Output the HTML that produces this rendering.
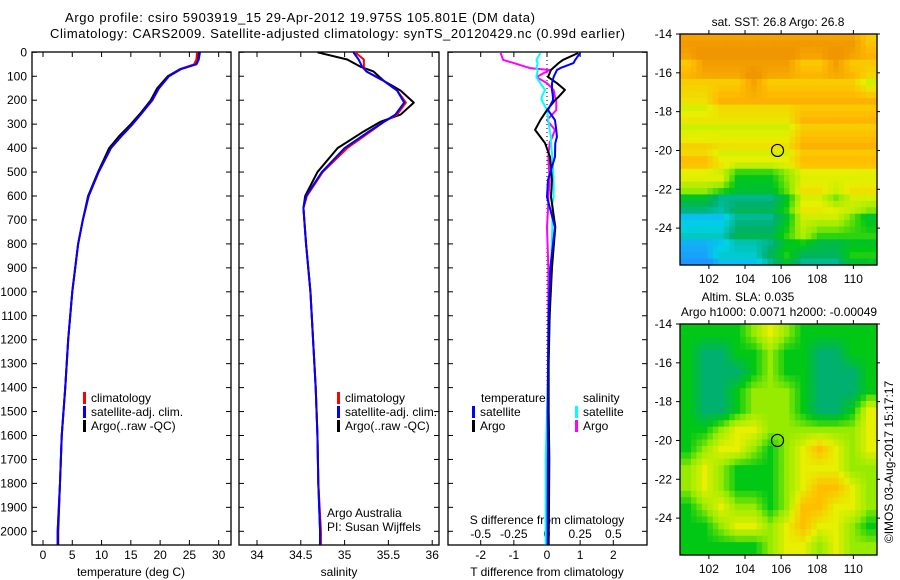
<!DOCTYPE html>
<html><head><meta charset="utf-8"><style>
body{margin:0;background:#fff;}
svg{display:block;font-family:"Liberation Sans",sans-serif;font-size:12px;}
</style></head><body>
<svg id="svg" width="900" height="580" viewBox="0 0 900 580" xmlns="http://www.w3.org/2000/svg">
<rect width="900" height="580" fill="#fff"/>
<text x="65" y="22" font-size="13" textLength="470">Argo profile: csiro 5903919_15 29-Apr-2012 19.975S 105.801E (DM data)</text>
<text x="50" y="38" font-size="13" textLength="575">Climatology: CARS2009. Satellite-adjusted climatology: synTS_20120429.nc (0.99d earlier)</text>
<g id="g"></g>
</svg>
<script>
// ---------- data ----------
const depths = [0,30,50,70,100,150,200,250,300,350,400,500,600,700,800,1000,1200,1400,1600,1800,2000,2055];
const tempArgo = [26.6,26.4,26.0,23.4,21.3,19.5,18.4,16.8,15.0,13.0,11.3,9.4,7.7,6.8,6.0,5.0,4.3,3.8,3.2,2.9,2.6,2.6];
const tempClim = [26.3,26.2,25.8,23.5,21.5,19.8,18.7,17.0,15.3,13.4,11.6,9.5,7.8,6.8,6.0,5.0,4.3,3.8,3.2,2.9,2.5,2.5];
const tempSat  = [26.8,26.6,26.2,23.6,21.5,19.8,18.6,17.0,15.3,13.4,11.6,9.5,7.8,6.8,6.0,5.0,4.3,3.8,3.2,2.9,2.5,2.5];
const salDepths = [0,30,60,80,120,160,210,260,290,330,400,500,600,650,700,800,1000,1200,1400,1600,1800,2000,2055];
const salArgo = [34.69,35.03,35.18,35.33,35.45,35.64,35.79,35.64,35.41,35.22,34.92,34.69,34.55,34.53,34.54,34.56,34.61,34.64,34.67,34.69,34.70,34.72,34.72];
const salClim = [35.12,35.22,35.22,35.25,35.45,35.60,35.70,35.60,35.45,35.30,35.03,34.75,34.57,34.53,34.54,34.56,34.61,34.64,34.67,34.69,34.70,34.73,34.73];
const salSat  = [35.10,35.16,35.20,35.25,35.45,35.60,35.68,35.58,35.45,35.28,35.00,34.74,34.56,34.53,34.54,34.56,34.61,34.64,34.67,34.69,34.70,34.72,34.72];
const diffDepths = [3,32,45,66,74,103,129,157,186,200,241,283,324,353,379,437,533,604,630,730,900,1100,1300,1500,1700,1900,2055];
const dTArgo = [0.94,0.48,0.35,0.18,0.12,0.03,0.30,0.54,0.35,0.24,0.0,-0.2,-0.36,-0.2,-0.06,0.09,0.15,0.12,0.15,0.25,0.15,0.08,0.05,0.05,0.07,0.06,0.05];
const dTSat  = [1.0,0.85,0.8,0.4,0.3,0.2,0.15,0.15,0.18,0.18,0.03,0.24,0.28,0.3,0.25,0.24,0.03,0.0,0.05,0.24,0.1,0.05,0.03,0.02,0.03,0.02,0.02];
const dSArgo = [-0.35,-0.33,-0.25,-0.13,0.02,-0.08,0.0,0.05,0.06,0.07,0.07,0.0,0.06,0.04,0.02,0.01,0.02,0.01,0.01,0.0,0.01,0.01,0.01,0.01,0.0,0.0,0.0];
const dSSat  = [-0.05,-0.08,-0.07,-0.08,-0.07,-0.08,-0.05,-0.015,-0.04,-0.04,0.0,0.01,0.02,0.03,0.03,0.04,0.05,0.05,0.04,0.04,0.03,0.02,0.01,0.0,-0.01,-0.01,-0.01];
const depthTicks = [0,100,200,300,400,500,600,700,800,900,1000,1100,1200,1300,1400,1500,1600,1700,1800,1900,2000];
const tempTicks = [0,5,10,15,20,25,30];
const salTicks = [34,34.5,35,35.5,36];
const tDiffTicks = [-2,-1,0,1,2];
const sDiffTicks = [-0.5,-0.25,0,0.25,0.5];
const sDiffLabels = ["-0.5","-0.25","0","0.25","0.5"];
const latTicks = [-14,-16,-18,-20,-22,-24];
const lonTicks = [102,104,106,108,110];
const sstGrid = [
"999999999998","899999988988","888898888887","778888888888",
"777777788888","777777788888","887777788888","777555677777",
"554444577677","333444577765","333444565555","223334544455"];
const slaGrid = [
"555567655555","544556554455","544456554445","544566654445",
"544566654457","556776666667","567765678767","676555677766",
"676555678876","567665688776","556776787765","555556776766"];

// ---------- helpers ----------
const NS="http://www.w3.org/2000/svg";
const G=document.getElementById('g');
function mk(tag,attrs,parent){const e=document.createElementNS(NS,tag);for(const k in attrs)e.setAttribute(k,attrs[k]);(parent||G).appendChild(e);return e;}
const yD = d => 52.3 + d*0.2395;
const PT=52, PB=545;
const xT = v => 43 + v*5.856;
const xS = v => 257 + (v-34)*87.6;
const xDT = v => 547 + v*33.15;
const xDS = v => 547 + v*132.6;

function frame(x0,x1,name){
  const r=mk('rect',{x:x0,y:PT,width:x1-x0,height:PB-PT,fill:'none',stroke:'#000','stroke-width':1.3});
  
  
  depthTicks.forEach(d=>{mk('line',{x1:x0,x2:x0+5,y1:yD(d),y2:yD(d),stroke:'#000'});mk('line',{x1:x1,x2:x1-5,y1:yD(d),y2:yD(d),stroke:'#000'});});
}
function xticks(ticks,fx,x0,x1,labels,ly){
  ticks.forEach((t,i)=>{const x=fx(t);mk('line',{x1:x,x2:x,y1:PT,y2:PT+5,stroke:'#000'});mk('line',{x1:x,x2:x,y1:PB,y2:PB-5,stroke:'#000'});
    const tx=mk('text',{x:x,y:ly,'text-anchor':'middle'});tx.textContent=labels?labels[i]:String(t);
    
    });
}
function line(xs,ds,fx,color,name,w){
  const p=mk('polyline',{points:xs.map((v,i)=>fx(v)+','+yD(ds[i])).join(' '),fill:'none',stroke:color,'stroke-width':w||2,'stroke-linejoin':'round'});
  
  
}
function label(x,y,s,name,anchor){const t=mk('text',{x:x,y:y,'text-anchor':anchor||'start'});t.textContent=s;
  
  return t;}
function legItem(x,y,color,s,name){mk('rect',{x:x,y:y-10,width:3,height:12,fill:color});label(x+8,y,s,name);}

depthTicks.forEach(d=>{label(27,yD(d)+4,String(d),'y-tick-label','end');});

// panel 1
frame(32,231,'temperature-panel');
xticks(tempTicks,xT,32,231,null,559);
label(131,576,'temperature (deg C)','x-axis-title-temperature','middle');
line(tempArgo,depths,xT,'#000','argo-temperature-line');
line(tempClim,depths,xT,'#f00','climatology-temperature-line');
line(tempSat,depths,xT,'#00f','satellite-temperature-line');
legItem(83,402,'#f00','climatology','legend-climatology');
legItem(83,416,'#00f','satellite-adj. clim.','legend-satellite');
legItem(83,430,'#000','Argo(..raw -QC)','legend-argo');

// panel 2
frame(239,439,'salinity-panel');
xticks(salTicks,xS,239,439,null,559);
label(339,576,'salinity','x-axis-title-salinity','middle');
line(salArgo,salDepths,xS,'#000','argo-salinity-line');
line(salClim,salDepths,xS,'#f00','climatology-salinity-line');
line(salSat,salDepths,xS,'#00f','satellite-salinity-line');
legItem(337,402,'#f00','climatology','legend-climatology-2');
legItem(337,416,'#00f','satellite-adj. clim.','legend-satellite-2');
legItem(337,430,'#000','Argo(..raw -QC)','legend-argo-2');
label(327,517,'Argo Australia','credit-argo-australia');
label(327,531,'PI: Susan Wijffels','credit-pi');

// panel 3
frame(448,647,'difference-panel');
xticks(tDiffTicks,xDT,448,647,null,559);
label(547,576,'T difference from climatology','x-axis-title-t-diff','middle');
label(547,524,'S difference from climatology','s-diff-title','middle');
sDiffTicks.forEach((t,i)=>{label(xDS(t),538,sDiffLabels[i],'s-diff-tick-label','middle');});
mk('line',{x1:547,x2:547,y1:PT,y2:PB,stroke:'#000','stroke-dasharray':'1,3'});
line(dSArgo,diffDepths,xDS,'#f0f','argo-salinity-diff-line');
line(dSSat,diffDepths,xDS,'#0ff','satellite-salinity-diff-line');
line(dTArgo,diffDepths,xDT,'#000','argo-temperature-diff-line');
line(dTSat,diffDepths,xDT,'#00f','satellite-temperature-diff-line');
label(481,402,'temperature','legend-temperature-header');
legItem(472,416,'#00f','satellite','legend-t-satellite');
legItem(472,430,'#000','Argo','legend-t-argo');
label(583,402,'salinity','legend-salinity-header');
legItem(575,416,'#0ff','satellite','legend-s-satellite');
legItem(575,430,'#f0f','Argo','legend-s-argo');

// ---------- maps ----------
const stops=[[0.2,[30,150,255]],[0.3,[0,210,230]],[0.4,[0,176,110]],[0.5,[0,200,20]],[0.6,[150,235,0]],[0.7,[230,240,0]],[0.8,[255,190,0]],[0.9,[240,150,0]]];
function cmap(v){if(v<=stops[0][0])return stops[0][1];for(let i=1;i<stops.length;i++){if(v<=stops[i][0]){const a=stops[i-1],b=stops[i],f=(v-a[0])/(b[0]-a[0]);return a[1].map((c,k)=>Math.round(c+(b[1][k]-c)*f));}}return stops[stops.length-1][1];}
function drawMap(grid,top,name,noise){
  const L=680,R=877,T=top,B=top+231,N=36;
  const g=mk('g',{});
  
  
  const rows=grid.length,cols=grid[0].length;
  const val=(r,c)=>+grid[Math.min(rows-1,Math.max(0,r))][Math.min(cols-1,Math.max(0,c))]/10;
  const cw=(R-L)/N,ch=(B-T)/N;
  for(let i=0;i<N;i++)for(let j=0;j<N;j++){
    const fr=(i+0.5)/N*rows-0.5,fc=(j+0.5)/N*cols-0.5;
    const r0=Math.floor(fr),c0=Math.floor(fc),a=fr-r0,b=fc-c0;
    let v=val(r0,c0)*(1-a)*(1-b)+val(r0,c0+1)*(1-a)*b+val(r0+1,c0)*a*(1-b)+val(r0+1,c0+1)*a*b;
    if(noise)v+=(((i*37+j*91)%7)-3)*0.01;
    const c=cmap(v);
    mk('rect',{x:(L+j*cw).toFixed(2),y:(T+i*ch).toFixed(2),width:(cw+0.6).toFixed(2),height:(ch+0.6).toFixed(2),fill:'rgb('+c.join(',')+')'},g);
  }
  mk('rect',{x:L,y:T,width:R-L,height:B-T,fill:'none',stroke:'#000','stroke-width':1.3},g);
  const lx=lon=>L+(lon-100.4)*18.06, ly=lat=>T+(-14-lat)*19.41;
  latTicks.forEach(t=>{mk('line',{x1:L-4,x2:L,y1:ly(t),y2:ly(t),stroke:'#000'});mk('line',{x1:R,x2:R+3,y1:ly(t),y2:ly(t),stroke:'#000'});label(672,ly(t)+4,String(t),'lat-tick-label','end');});
  lonTicks.forEach(t=>{mk('line',{x1:lx(t),x2:lx(t),y1:T-4,y2:T,stroke:'#000'});mk('line',{x1:lx(t),x2:lx(t),y1:B,y2:B+4,stroke:'#000'});label(lx(t),B+18,String(t),'lon-tick-label','middle');});
  const c=mk('circle',{cx:lx(105.8),cy:ly(-20),r:6,fill:'none',stroke:'#000','stroke-width':1.2});
  
  
}
drawMap(sstGrid,34,'sst-map',true);
drawMap(slaGrid,324,'sla-map',false);
label(778,26,'sat. SST: 26.8 Argo: 26.8','sst-map-title','middle');
label(748,301,'Altim. SLA: 0.035','sla-map-title','middle');
label(779,316,'Argo h1000: 0.0071 h2000: -0.00049','sla-map-subtitle','middle');
const im=label(0,0,'©IMOS 03-Aug-2017 15:17:17','imos-timestamp','middle');
im.setAttribute('transform','translate(893,462) rotate(-90)');
</script>
</body></html>
